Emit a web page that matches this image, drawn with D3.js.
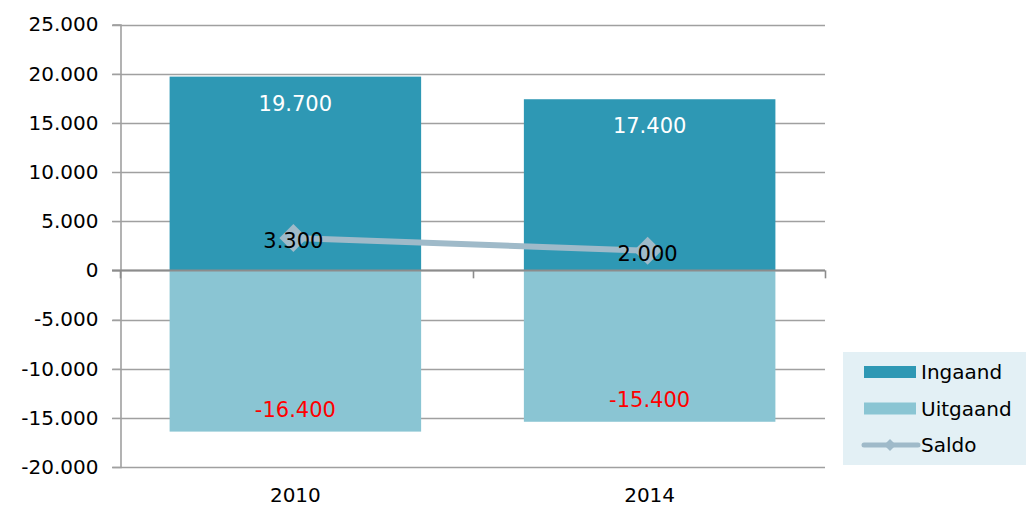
<!DOCTYPE html>
<html>
<head>
<meta charset="utf-8">
<script src="https://cdn.jsdelivr.net/npm/d3@7"></script>
<style>
  html, body { margin: 0; padding: 0; background: #fff; }
  svg { display: block; font-family: "DejaVu Sans", Verdana, sans-serif; }
</style>
</head>
<body>
<svg id="chart" width="1026" height="506"></svg>
<script>
// Pendel per jaar: ingaand, uitgaand en saldo
const years = ["2010", "2014"];
const ingaand = [19700, 17400];
const uitgaand = [-16400, -15400];
const saldo = [3300, 2000];
const yTicks = [25000, 20000, 15000, 10000, 5000, 0, -5000, -10000, -15000, -20000];
const seriesNames = ["Ingaand", "Uitgaand", "Saldo"];

const colIn = "#2e98b4", colUit = "#8ac5d3", colSaldo = "#9fbac9";
// Nederlandse notatie: punt als duizendtalscheiding, gewoon minteken
const fmt = v => d3.format(",")(v).replace(/,/g, ".").replace("\u2212", "-");

// ruitvormige markering met halve diagonaal r
const diamond = r => `M0,${-r}L${r},0L0,${r}L${-r},0Z`;

const svg = d3.select("#chart");
const plotLeft = 120, plotRight = 825, plotTop = 24.5, plotBottom = 467;

const y = d3.scaleLinear().domain([-20000, 25000]).range([plotBottom, plotTop]);
const x = d3.scaleBand().domain(years).range([plotLeft, plotRight]).paddingInner(0.29).paddingOuter(0.14);

// horizontale rasterlijnen
svg.append("g").selectAll("line").data(yTicks).join("line")
  .attr("x1", plotLeft - 8).attr("x2", plotRight)
  .attr("y1", d => Math.round(y(d)) + 0.5).attr("y2", d => Math.round(y(d)) + 0.5)
  .attr("stroke", "#a0a0a0").attr("stroke-width", 1.6);

// y-as met labels
const yAxis = d3.axisLeft(y).tickValues(yTicks).tickSize(8).tickPadding(14).tickFormat(fmt);
const gy = svg.append("g").attr("transform", `translate(${plotLeft + 0.5},0)`).call(yAxis);
gy.select(".domain").attr("stroke", "#a0a0a0").attr("stroke-width", 1.6);
gy.selectAll(".tick line").attr("stroke", "#a0a0a0");
gy.selectAll("text").attr("font-size", 20).attr("fill", "#000")
  .attr("font-family", "DejaVu Sans, Verdana, sans-serif");

// staven
const bars = svg.append("g");
bars.selectAll("rect.in").data(years).join("rect").attr("class", "in")
  .attr("x", d => x(d)).attr("width", x.bandwidth())
  .attr("y", (d, i) => y(ingaand[i])).attr("height", (d, i) => y(0) - y(ingaand[i]))
  .attr("fill", colIn);
bars.selectAll("rect.uit").data(years).join("rect").attr("class", "uit")
  .attr("x", d => x(d)).attr("width", x.bandwidth())
  .attr("y", y(0)).attr("height", (d, i) => y(uitgaand[i]) - y(0))
  .attr("fill", colUit);

// x-as op nul
const xAxisG = svg.append("g");
xAxisG.append("line").attr("x1", plotLeft - 8).attr("x2", plotRight)
  .attr("y1", Math.round(y(0)) + 0.5).attr("y2", Math.round(y(0)) + 0.5)
  .attr("stroke", "#8c8c8c").attr("stroke-width", 2);
const catTicks = [plotLeft, (plotLeft + plotRight) / 2, plotRight];
xAxisG.selectAll("line.t").data(catTicks).join("line").attr("class", "t")
  .attr("x1", d => Math.round(d) + 0.5).attr("x2", d => Math.round(d) + 0.5)
  .attr("y1", y(0)).attr("y2", y(0) + 8)
  .attr("stroke", "#8c8c8c").attr("stroke-width", 1.6);

// jaarlabels onderaan
svg.append("g").selectAll("text").data(years).join("text")
  .attr("x", d => x(d) + x.bandwidth() / 2).attr("y", 502)
  .attr("text-anchor", "middle").attr("font-size", 20).text(d => d);

// waardelabels in de staven
svg.append("g").selectAll("text").data(years).join("text")
  .attr("x", d => x(d) + x.bandwidth() / 2).attr("y", (d, i) => y(ingaand[i]) + 34)
  .attr("text-anchor", "middle").attr("font-size", 21).attr("fill", "#fff")
  .text((d, i) => fmt(ingaand[i]));
svg.append("g").selectAll("text").data(years).join("text")
  .attr("x", d => x(d) + x.bandwidth() / 2).attr("y", (d, i) => y(uitgaand[i]) - 15)
  .attr("text-anchor", "middle").attr("font-size", 21).attr("fill", "#ff0000")
  .text((d, i) => fmt(uitgaand[i]));

// saldolijn met ruitjes
const pts = years.map((d, i) => [x(d) + x.bandwidth() / 2 - 2, y(saldo[i])]);
svg.append("path").attr("d", d3.line()(pts))
  .attr("fill", "none").attr("stroke", colSaldo).attr("stroke-width", 6);
svg.append("g").selectAll("path").data(pts).join("path")
  .attr("transform", d => `translate(${d[0]},${d[1]})`)
  .attr("d", diamond(14))
  .attr("fill", colSaldo);
svg.append("g").selectAll("text").data(pts).join("text")
  .attr("x", d => d[0]).attr("y", d => d[1] + 10)
  .attr("text-anchor", "middle").attr("font-size", 21).attr("fill", "#000")
  .text((d, i) => fmt(saldo[i]));

// legenda
const lg = svg.append("g").attr("transform", "translate(843,352)");
lg.append("rect").attr("width", 183).attr("height", 113).attr("fill", "#e3f0f5");
const items = lg.selectAll("g").data(seriesNames).join("g")
  .attr("transform", (d, i) => `translate(0,${20 + i * 36.5})`);
items.each(function (d, i) {
  const g = d3.select(this);
  if (i < 2) {
    g.append("rect").attr("x", 21).attr("y", -6).attr("width", 52).attr("height", 12)
      .attr("fill", i === 0 ? colIn : colUit);
  } else {
    g.append("line").attr("x1", 21).attr("x2", 75).attr("stroke", colSaldo)
      .attr("stroke-width", 5).attr("stroke-linecap", "round");
    g.append("path").attr("transform", "translate(47,0)")
      .attr("d", diamond(6)).attr("fill", colSaldo);
  }
  g.append("text").attr("x", 78).attr("y", 7).attr("font-size", 20).text(d);
});
</script>
</body>
</html>
